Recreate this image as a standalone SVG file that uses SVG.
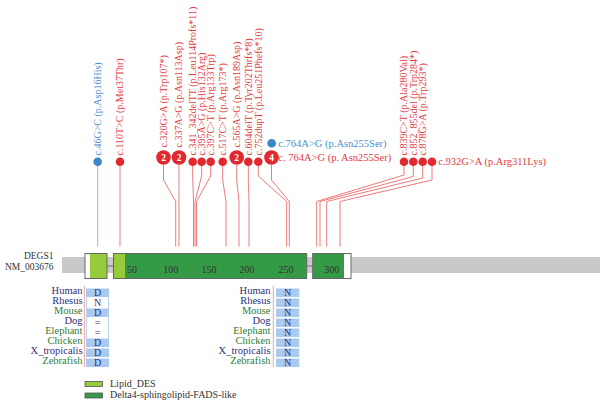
<svg xmlns="http://www.w3.org/2000/svg" width="600" height="405" viewBox="0 0 600 405">
<style>
text{font-family:"Liberation Serif","Times New Roman",serif}
.vr{font-size:10px;fill:#e23b3f}
.vb{font-size:10px;fill:#4a90d0}
.hr{font-size:10.5px;fill:#e23b3f}
.hb{font-size:10.5px;fill:#4a90d0}
.dr{fill:#e0282e}
.db{fill:#3b86c6}
.num{font-size:9.5px;fill:#fff;text-anchor:middle;font-weight:bold}
.con path{fill:none;stroke:#ef7a7a;stroke-width:1}
.con path.b{stroke:#8dbbe4}
.ax{font-size:10px;fill:#333;text-anchor:middle}
.sp{font-size:10.5px;text-anchor:end}
.nv{fill:#2b3079}
.gr{fill:#2e7d3a}
.aa{font-size:10px;fill:#2a3580;text-anchor:middle}
.cf{fill:#aac9ee}
.cw{fill:#fff}
.pk{stroke:#f0a0a0;stroke-width:1}
.lg{font-size:10px;fill:#333}
.gn{font-size:9.5px;fill:#333;text-anchor:end}
</style>

<g id="connectors" class="con">
<path class="b" d="M97.7,166 V246.5"/>
<path d="M120,166 V246.5"/>
<path d="M163.5,165 V180 L175.7,201.5 V246.5"/>
<path d="M179,165 V246.5"/>
<path d="M192.7,166 V176 L193.5,201.5 V246.5"/>
<path d="M201.7,166 V176 L195,201.5 V246.5"/>
<path d="M210.7,166 V176 L196.5,201.5 V246.5"/>
<path d="M222.7,166 V180 L226,201.5 V246.5"/>
<path d="M236.7,165 V180 L239,201.5 V246.5"/>
<path d="M248.3,166 V180 L249,201.5 V246.5"/>
<path d="M258.3,166 V176 L286.7,201.5 V246.5"/>
<path d="M271.5,165 V180 L289.3,201.5 V246.5"/>
<path d="M404,166 V175 L316.7,201.5 V246.5"/>
<path d="M413.3,166 V176.5 L320,201.5 V246.5"/>
<path d="M422.7,166 V178 L326.7,201.5 V246.5"/>
<path d="M432,166 V180 L340,201.5 V246.5"/>
</g>

<g id="m46"><circle class="db" cx="97.7" cy="161.7" r="4.3"/><text class="vb" transform="translate(101,155.5) rotate(-90)">c.46G&gt;C (p.Asp16His)</text></g>
<g id="m110"><circle class="dr" cx="120" cy="161.7" r="4.3"/><text class="vr" transform="translate(123.3,155.5) rotate(-90)">c.110T&gt;C (p.Met37Thr)</text></g>
<g id="m320"><circle class="dr" cx="163.5" cy="157.5" r="7.3"/><text class="num" x="163.5" y="161">2</text><text class="vr" transform="translate(166.8,147.5) rotate(-90)">c.320G&gt;A (p.Trp107*)</text></g>
<g id="m337"><circle class="dr" cx="179" cy="157.5" r="7.3"/><text class="num" x="179" y="161">2</text><text class="vr" transform="translate(182.3,147.5) rotate(-90)">c.337A&gt;G (p.Asn113Asp)</text></g>
<g id="m341"><circle class="dr" cx="192.7" cy="161.7" r="4.3"/><text class="vr" transform="translate(196,155.5) rotate(-90)">c.341_342delTT (p.Leu114Profs*11)</text></g>
<g id="m395"><circle class="dr" cx="201.7" cy="161.7" r="4.3"/><text class="vr" transform="translate(205,155.5) rotate(-90)">c.395A&gt;G (p.His132Arg)</text></g>
<g id="m397"><circle class="dr" cx="210.7" cy="161.7" r="4.3"/><text class="vr" transform="translate(214,155.5) rotate(-90)">c.397C&gt;T (p.Arg133Trp)</text></g>
<g id="m517"><circle class="dr" cx="222.7" cy="161.7" r="4.3"/><text class="vr" transform="translate(226,155.5) rotate(-90)">c.517C&gt;T (p.Arg173*)</text></g>
<g id="m565"><circle class="dr" cx="236.7" cy="157.5" r="7.3"/><text class="num" x="236.7" y="161">2</text><text class="vr" transform="translate(240,147.5) rotate(-90)">c.565A&gt;G (p.Asn189Asp)</text></g>
<g id="m604"><circle class="dr" cx="248.3" cy="161.7" r="4.3"/><text class="vr" transform="translate(251.6,155.5) rotate(-90)">c.604delT (p.Tyr202Thrfs*8)</text></g>
<g id="m752"><circle class="dr" cx="258.3" cy="161.7" r="4.3"/><text class="vr" transform="translate(261.6,155.5) rotate(-90)">c.752dupT (p.Leu251Phefs*10)</text></g>
<g id="m764b"><circle class="db" cx="271.7" cy="143.3" r="4.3"/><text class="hb" x="278.3" y="147">c.764A&gt;G (p.Asn255Ser)</text></g>
<g id="m764"><circle class="dr" cx="271.5" cy="157.5" r="7.3"/><text class="num" x="271.5" y="161">4</text><text class="hr" x="278.3" y="161">c. 764A&gt;G (p. Asn255Ser)</text></g>
<g id="m839"><circle class="dr" cx="404" cy="161.7" r="4.3"/><text class="vr" transform="translate(407.3,155.5) rotate(-90)">c.839C&gt;T (p.Ala280Val)</text></g>
<g id="m852"><circle class="dr" cx="413.3" cy="161.7" r="4.3"/><text class="vr" transform="translate(416.6,155.5) rotate(-90)">c.852_855del (p.Trp284*)</text></g>
<g id="m878"><circle class="dr" cx="422.7" cy="161.7" r="4.3"/><text class="vr" transform="translate(426,155.5) rotate(-90)">c.878G&gt;A (p.Trp293*)</text></g>
<g id="m932"><circle class="dr" cx="432" cy="161.7" r="4.3"/><text class="hr" x="438.3" y="165">c.932G&gt;A (p.Arg311Lys)</text></g>

<g id="protein">
<text class="gn" x="53.5" y="259">DEGS1</text>
<text class="gn" x="53.5" y="270">NM_003676</text>
<rect x="62" y="257" width="538" height="16" fill="#c9c9c9"/>
<line x1="107" y1="266" x2="113.5" y2="266" stroke="#777" stroke-width="1"/>
<line x1="306.7" y1="266" x2="312.7" y2="266" stroke="#777" stroke-width="1"/>
<rect x="85" y="253.5" width="22" height="25" fill="#fff"/>
<rect x="90" y="253.5" width="17" height="25" fill="#97cb3b"/>
<rect x="85" y="253.5" width="22" height="25" fill="none" stroke="#666" stroke-width="1"/>
<rect x="113.5" y="253.5" width="193.2" height="25" fill="#359a45"/>
<rect x="113.5" y="253.5" width="11.5" height="25" fill="#97cb3b"/>
<rect x="113.5" y="253.5" width="193.2" height="25" fill="none" stroke="#666" stroke-width="1"/>
<rect x="312.7" y="253.5" width="38.3" height="25" fill="#fff"/>
<rect x="312.7" y="253.5" width="31.3" height="25" fill="#359a45"/>
<rect x="312.7" y="253.5" width="38.3" height="25" fill="none" stroke="#666" stroke-width="1"/>
<text class="ax" x="132" y="273">50</text>
<text class="ax" x="170.7" y="273">100</text>
<text class="ax" x="209" y="273">150</text>
<text class="ax" x="246.7" y="273">200</text>
<text class="ax" x="286" y="273">250</text>
<text class="ax" x="331.7" y="273">300</text>
</g>

<g id="align-left">
<line class="pk" x1="84.3" y1="286" x2="84.3" y2="367"/>
<rect class="cf" x="86" y="288.5" width="23" height="8.5"/>
<rect class="cw" x="86" y="298.5" width="23" height="8.5"/>
<rect class="cf" x="86" y="308.5" width="23" height="8.5"/>
<rect class="cw" x="86" y="318.5" width="23" height="8.5"/>
<rect class="cw" x="86" y="328.5" width="23" height="8.5"/>
<rect class="cf" x="86" y="338.5" width="23" height="8.5"/>
<rect class="cf" x="86" y="348.5" width="23" height="8.5"/>
<rect class="cf" x="86" y="358.5" width="23" height="8.5"/>
<line x1="86.5" y1="297" x2="86.5" y2="338.5" stroke="#b8d2f0" stroke-width="1"/>
<line x1="108.5" y1="297" x2="108.5" y2="338.5" stroke="#b8d2f0" stroke-width="1"/>
<text class="sp nv" x="82.5" y="294">Human</text>
<text class="sp nv" x="82.5" y="304">Rhesus</text>
<text class="sp gr" x="82.5" y="314">Mouse</text>
<text class="sp nv" x="82.5" y="324">Dog</text>
<text class="sp gr" x="82.5" y="334">Elephant</text>
<text class="sp gr" x="82.5" y="344">Chicken</text>
<text class="sp nv" x="82.5" y="354">X_tropicalis</text>
<text class="sp gr" x="82.5" y="364">Zebrafish</text>
<text class="aa" x="97.5" y="295.5">D</text>
<text class="aa" x="97.5" y="305.5">N</text>
<text class="aa" x="97.5" y="315.5">D</text>
<text class="aa" x="97.5" y="325.5">=</text>
<text class="aa" x="97.5" y="335.5">=</text>
<text class="aa" x="97.5" y="345.5">D</text>
<text class="aa" x="97.5" y="355.5">D</text>
<text class="aa" x="97.5" y="365.5">D</text>
</g>

<g id="align-right">
<line class="pk" x1="273.3" y1="286" x2="273.3" y2="367"/>
<rect class="cf" x="276" y="288.5" width="23.3" height="8.5"/>
<rect class="cf" x="276" y="298.5" width="23.3" height="8.5"/>
<rect class="cf" x="276" y="308.5" width="23.3" height="8.5"/>
<rect class="cf" x="276" y="318.5" width="23.3" height="8.5"/>
<rect class="cf" x="276" y="328.5" width="23.3" height="8.5"/>
<rect class="cf" x="276" y="338.5" width="23.3" height="8.5"/>
<rect class="cf" x="276" y="348.5" width="23.3" height="8.5"/>
<rect class="cf" x="276" y="358.5" width="23.3" height="8.5"/>
<text class="sp nv" x="270.5" y="294">Human</text>
<text class="sp nv" x="270.5" y="304">Rhesus</text>
<text class="sp gr" x="270.5" y="314">Mouse</text>
<text class="sp nv" x="270.5" y="324">Dog</text>
<text class="sp gr" x="270.5" y="334">Elephant</text>
<text class="sp gr" x="270.5" y="344">Chicken</text>
<text class="sp nv" x="270.5" y="354">X_tropicalis</text>
<text class="sp gr" x="270.5" y="364">Zebrafish</text>
<text class="aa" x="287.7" y="295.5">N</text>
<text class="aa" x="287.7" y="305.5">N</text>
<text class="aa" x="287.7" y="315.5">N</text>
<text class="aa" x="287.7" y="325.5">N</text>
<text class="aa" x="287.7" y="335.5">N</text>
<text class="aa" x="287.7" y="345.5">N</text>
<text class="aa" x="287.7" y="355.5">N</text>
<text class="aa" x="287.7" y="365.5">N</text>
</g>

<g id="legend">
<rect x="85" y="381.5" width="17.5" height="5" fill="#97cb3b" stroke="#555" stroke-width="0.8"/>
<text class="lg" x="110" y="387">Lipid_DES</text>
<rect x="85" y="393" width="17.5" height="5" fill="#359a45" stroke="#555" stroke-width="0.8"/>
<text class="lg" x="110" y="397.5">Delta4-sphingolipid-FADS-like</text>
</g>
</svg>
